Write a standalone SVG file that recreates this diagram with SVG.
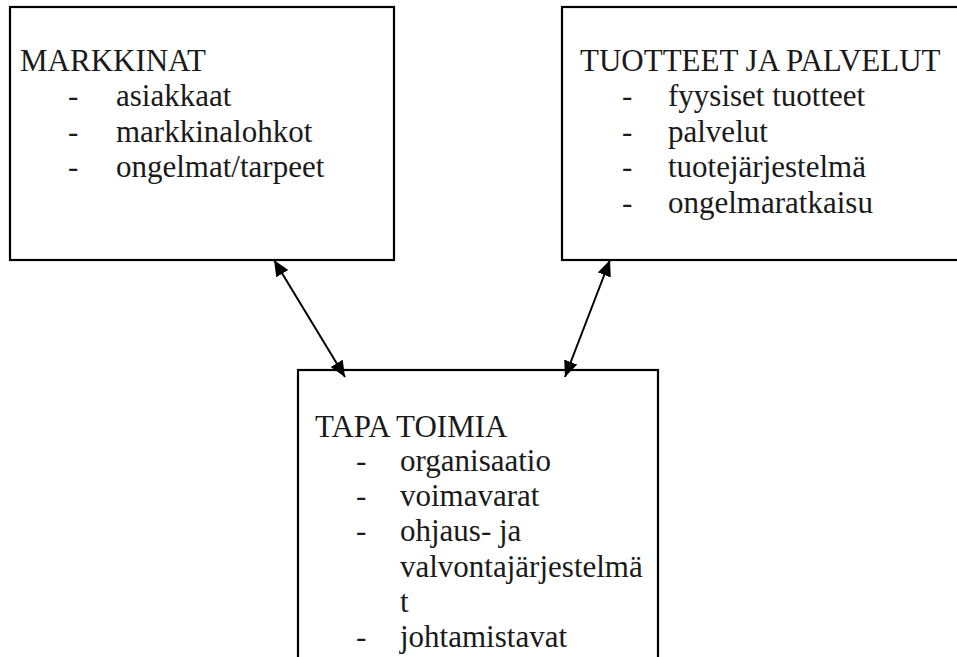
<svg xmlns="http://www.w3.org/2000/svg" width="957" height="657" viewBox="0 0 957 657">
<style>
.box{fill:#fff;stroke:#000;stroke-width:2.2}
.t{font-family:"Liberation Serif","Times New Roman",serif;font-size:31px;fill:#1a1a1a}
.conn{stroke:#000;stroke-width:2;fill:none}
</style>
<defs>
<marker id="ah" markerUnits="userSpaceOnUse" markerWidth="18" markerHeight="16" refX="16" refY="7" orient="auto-start-reverse">
<path d="M0,0 L16,7 L0,14 z" fill="#000"/>
</marker>
</defs>
<rect width="957" height="657" fill="#fff"/>
<g id="markkinat">
<rect class="box" x="10" y="7" width="384" height="253"/>
<text class="t" x="20" y="71">MARKKINAT</text>
<text class="t" x="68" y="106">-</text><text class="t" x="116" y="106">asiakkaat</text>
<text class="t" x="68" y="142">-</text><text class="t" x="116" y="142">markkinalohkot</text>
<text class="t" x="68" y="177">-</text><text class="t" x="116" y="177">ongelmat/tarpeet</text>
</g>
<g id="tuotteet">
<rect class="box" x="562" y="7" width="420" height="253"/>
<text class="t" x="580" y="71">TUOTTEET JA PALVELUT</text>
<text class="t" x="622" y="106">-</text><text class="t" x="668" y="106">fyysiset tuotteet</text>
<text class="t" x="622" y="142">-</text><text class="t" x="668" y="142">palvelut</text>
<text class="t" x="622" y="177">-</text><text class="t" x="668" y="177">tuotejärjestelmä</text>
<text class="t" x="622" y="213">-</text><text class="t" x="668" y="213">ongelmaratkaisu</text>
</g>
<g id="tapa">
<rect class="box" x="298" y="370" width="360" height="340"/>
<text class="t" x="315" y="437">TAPA TOIMIA</text>
<text class="t" x="356" y="471">-</text><text class="t" x="400" y="471">organisaatio</text>
<text class="t" x="356" y="506">-</text><text class="t" x="400" y="506">voimavarat</text>
<text class="t" x="356" y="541">-</text><text class="t" x="400" y="541">ohjaus- ja</text>
<text class="t" x="400" y="577">valvontajärjestelmä</text>
<text class="t" x="400" y="612">t</text>
<text class="t" x="356" y="647">-</text><text class="t" x="400" y="647">johtamistavat</text>
</g>
<g id="connectors">
<line class="conn" x1="274" y1="260" x2="345" y2="377" marker-start="url(#ah)" marker-end="url(#ah)"/>
<line class="conn" x1="610" y1="260" x2="565" y2="377" marker-start="url(#ah)" marker-end="url(#ah)"/>
</g>
</svg>
